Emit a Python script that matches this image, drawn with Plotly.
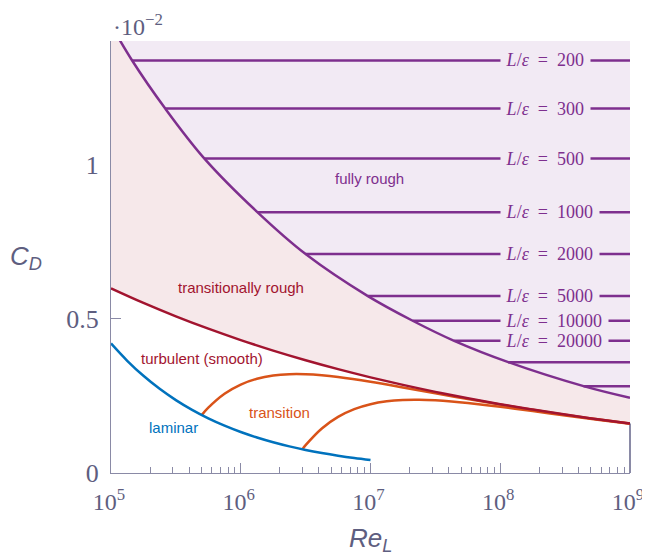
import math
import plotly.graph_objects as go

# ---------------- data ----------------
# laminar (blue)
RE_LAM = [1.0e5, 1.334e5, 1.778e5, 2.371e5, 3.162e5, 4.217e5, 5.623e5, 7.499e5,
          1.0e6, 1.334e6, 1.778e6, 2.371e6, 3.162e6, 4.217e6, 5.623e6, 7.499e6, 1.0e7]
CD_LAM = [0.0041995, 0.0036367, 0.0031492, 0.0027271, 0.0023616, 0.0020450, 0.0017709, 0.0015335,
          0.0013280, 0.0011500, 0.00099588, 0.00086239, 0.00074678, 0.00064670, 0.00056001,
          0.00048496, 0.00041995]

# turbulent smooth (dark red)
RE_TURB = [1.0e5, 1.778e5, 3.162e5, 5.623e5, 1.0e6, 1.778e6, 3.162e6, 5.623e6, 1.0e7,
           1.778e7, 3.162e7, 5.623e7, 1.0e8, 1.778e8, 3.162e8, 5.623e8, 1.0e9]
CD_TURB = [0.0059850, 0.0055127, 0.0050775, 0.0046766, 0.0043074, 0.0039674, 0.0036542,
           0.0033657, 0.0031000, 0.0028552, 0.0026298, 0.0024222, 0.0022310, 0.0020549,
           0.0018927, 0.0017433, 0.0016056]

# transition curves (orange)
RE_TR1 = [5.0e5, 5.623e5, 7.499e5, 1.0e6, 1.334e6, 1.778e6, 2.371e6, 3.162e6, 4.217e6,
          5.623e6, 1.0e7, 1.778e7, 3.162e7, 5.623e7, 1.0e8, 1.778e8, 3.162e8, 5.623e8, 1.0e9]
CD_TR1 = [0.0018745, 0.0021159, 0.0025680, 0.0028674, 0.0030540, 0.0031576, 0.0032003,
          0.0031988, 0.0031658, 0.0031096, 0.0029560, 0.0027742, 0.0025843, 0.0023966,
          0.0022166, 0.0020468, 0.0018881, 0.0017407, 0.0016042]

RE_TR2 = [3.0e6, 3.162e6, 4.217e6, 5.623e6, 7.499e6, 1.0e7, 1.334e7, 1.778e7, 2.371e7,
          3.162e7, 4.217e7, 5.623e7, 1.0e8, 1.778e8, 3.162e8, 5.623e8, 1.0e9]
CD_TR2 = [0.0007818, 0.0009030, 0.0014442, 0.0018186, 0.0020700, 0.0022300, 0.0023226,
          0.0023660, 0.0023731, 0.0023547, 0.0023177, 0.0022675, 0.0021440, 0.0020060,
          0.0018652, 0.0017278, 0.0015969]

# fully-rough boundary (purple)
RE_BND = [1.0e5, 1.455e5, 2.618e5, 5.25e5, 1.349e6, 3.162e6, 9.55e6, 2.113e7, 4.416e7,
          1.153e8, 4.385e8, 1.0e9]
CD_BND = [0.014522, 0.013369, 0.011812, 0.010190, 0.0084478, 0.0070958, 0.0057327,
          0.0049339, 0.0042826, 0.0035928, 0.0028141, 0.002435]

# L/eps lines
LE_RATIO = [200, 300, 500, 1000, 2000, 5000, 10000, 20000, 50000, 200000]
LE_CD = [0.013369, 0.011812, 0.010190, 0.0084478, 0.0070958, 0.0057327, 0.0049339,
         0.0042826, 0.0035928, 0.0028141]
LE_RE_START = [1.455e5, 2.618e5, 5.25e5, 1.349e6, 3.162e6, 9.55e6, 2.113e7, 4.416e7,
               1.153e8, 4.385e8]
LE_LABELED = [200, 300, 500, 1000, 2000, 5000, 10000, 20000]

# region labels
REGION_TEXT = ["fully rough", "transitionally rough", "turbulent (smooth)", "transition", "laminar"]
REGION_RE = [9.82e6, 1.005e6, 5.02e5, 1.99e6, 3.006e5]
REGION_CD = [0.009545, 0.006006, 0.00370, 0.001948, 0.00149]

# axis ticks
X_TICKS = [1e5, 1e6, 1e7, 1e8, 1e9]
X_TICKTEXT = ["10<sup>5</sup>", "10<sup>6</sup>", "10<sup>7</sup>", "10<sup>8</sup>", "10<sup>9</sup>"]
X_MINOR = [m * 10 ** e for e in range(5, 9) for m in range(2, 10)]
Y_TICKS = [0, 0.005, 0.01]
Y_TICKTEXT = ["0", "0.5", "1"]
Y_MAX = 0.014

# ---------------- styles ----------------
BLUE = "#0072BD"
ORANGE = "#D95319"
PURPLE = "#7E2F8E"
DRED = "#A2142F"
PINK = "#f6e8ea"
LAV = "#f2eaf4"
AXC = "#8a8aa6"
TXC = "#5e5e80"
LW = 2.5
SERIF = "Liberation Serif"
SANS = "Liberation Sans"

fig = go.Figure()

# fills
fig.add_trace(go.Scatter(x=RE_TURB + [RE_TURB[-1], RE_TURB[0]], y=CD_TURB + [Y_MAX, Y_MAX],
                         fill="toself", fillcolor=PINK, mode="lines", line=dict(width=0),
                         hoverinfo="skip"))
fig.add_trace(go.Scatter(x=RE_BND + [RE_BND[-1]], y=CD_BND + [CD_BND[0]],
                         fill="toself", fillcolor=LAV, mode="lines", line=dict(width=0),
                         hoverinfo="skip"))

# L/eps horizontal lines
for re0, cd in zip(LE_RE_START, LE_CD):
    fig.add_trace(go.Scatter(x=[re0, X_TICKS[-1]], y=[cd, cd], mode="lines",
                             line=dict(color=PURPLE, width=LW), hoverinfo="skip"))

# boundary curve
fig.add_trace(go.Scatter(x=RE_BND, y=CD_BND, mode="lines", line=dict(color=PURPLE, width=LW, shape="spline"),
                         hoverinfo="skip"))
# transitions
fig.add_trace(go.Scatter(x=RE_TR1, y=CD_TR1, mode="lines", line=dict(color=ORANGE, width=LW, shape="spline"),
                         hoverinfo="skip"))
fig.add_trace(go.Scatter(x=RE_TR2, y=CD_TR2, mode="lines", line=dict(color=ORANGE, width=LW, shape="spline"),
                         hoverinfo="skip"))
# turbulent
fig.add_trace(go.Scatter(x=RE_TURB, y=CD_TURB, mode="lines", line=dict(color=DRED, width=LW, shape="spline"),
                         hoverinfo="skip"))
# laminar
fig.add_trace(go.Scatter(x=RE_LAM, y=CD_LAM, mode="lines", line=dict(color=BLUE, width=LW, shape="spline"),
                         hoverinfo="skip"))

annotations = []
for ratio, cd in zip(LE_RATIO, LE_CD):
    if ratio in LE_LABELED:
        annotations.append(dict(
            x=8, y=cd, xref="x", yref="y", xanchor="left", yanchor="middle",
            text="\u2009<i>L</i>/<i>ε</i>\u2002=\u2002" + str(ratio) + "\u2009",
            showarrow=False, bgcolor=LAV, borderpad=2,
            font=dict(family=SERIF, size=18, color=PURPLE)))

region_colors = [PURPLE, DRED, DRED, ORANGE, BLUE]
for t, re, cd, col in zip(REGION_TEXT, REGION_RE, REGION_CD, region_colors):
    annotations.append(dict(x=math.log10(re), y=cd, xref="x", yref="y", text=t, showarrow=False,
                            xanchor="center", yanchor="middle",
                            font=dict(family=SANS, size=15, color=col)))

# axis titles and multiplier
annotations.append(dict(x=-0.164, y=0.498, xref="paper", yref="paper", text="<i>C</i><sub><i>D</i></sub>",
                        showarrow=False, xanchor="center", yanchor="middle",
                        font=dict(family=SANS, size=26, color=TXC)))
annotations.append(dict(x=0.5, y=-0.155, xref="paper", yref="paper", text="<i>Re</i><sub><i>L</i></sub>",
                        showarrow=False, xanchor="center", yanchor="middle",
                        font=dict(family=SANS, size=26, color=TXC)))
annotations.append(dict(x=0.0, y=0.998, xref="paper", yref="paper", text="·10<sup>−2</sup>",
                        showarrow=False, xanchor="left", yanchor="bottom",
                        font=dict(family=SERIF, size=24, color=TXC)))

# the page adds an 8 px body margin, so the figure is sized to fit the window
fig.update_layout(
    width=642, height=548,
    margin=dict(l=103, r=20, t=33, b=83, autoexpand=False),
    plot_bgcolor="white", paper_bgcolor="white",
    showlegend=False,
    annotations=annotations,
    shapes=[dict(type="line", xref="paper", yref="y", x0=1, x1=1, y0=0, y1=CD_TURB[-1],
                 line=dict(color=AXC, width=2), layer="below")],
)
fig.update_xaxes(type="log", range=[5, 9], tickvals=X_TICKS, ticktext=X_TICKTEXT,
                 ticks="inside", ticklen=10, tickwidth=1, tickcolor=AXC, automargin=False,
                 showline=True, linecolor=AXC, linewidth=1, showgrid=False, zeroline=False,
                 tickfont=dict(family=SERIF, size=24, color=TXC), layer="below traces",
                 ticklabelstandoff=7, ticklabelshift=-2,
                 minor=dict(tickmode="array", tickvals=X_MINOR, ticks="inside", ticklen=6,
                            tickwidth=1, tickcolor=AXC, showgrid=False))
fig.update_yaxes(range=[0, Y_MAX], tickvals=Y_TICKS, ticktext=Y_TICKTEXT, automargin=False,
                 ticks="inside", ticklen=10, tickwidth=1, tickcolor=AXC,
                 showline=True, linecolor=AXC, linewidth=1, showgrid=False, zeroline=False,
                 tickfont=dict(family=SERIF, size=26, color=TXC), layer="below traces",
                 ticklabelstandoff=6)

fig.write_html("out.html")
